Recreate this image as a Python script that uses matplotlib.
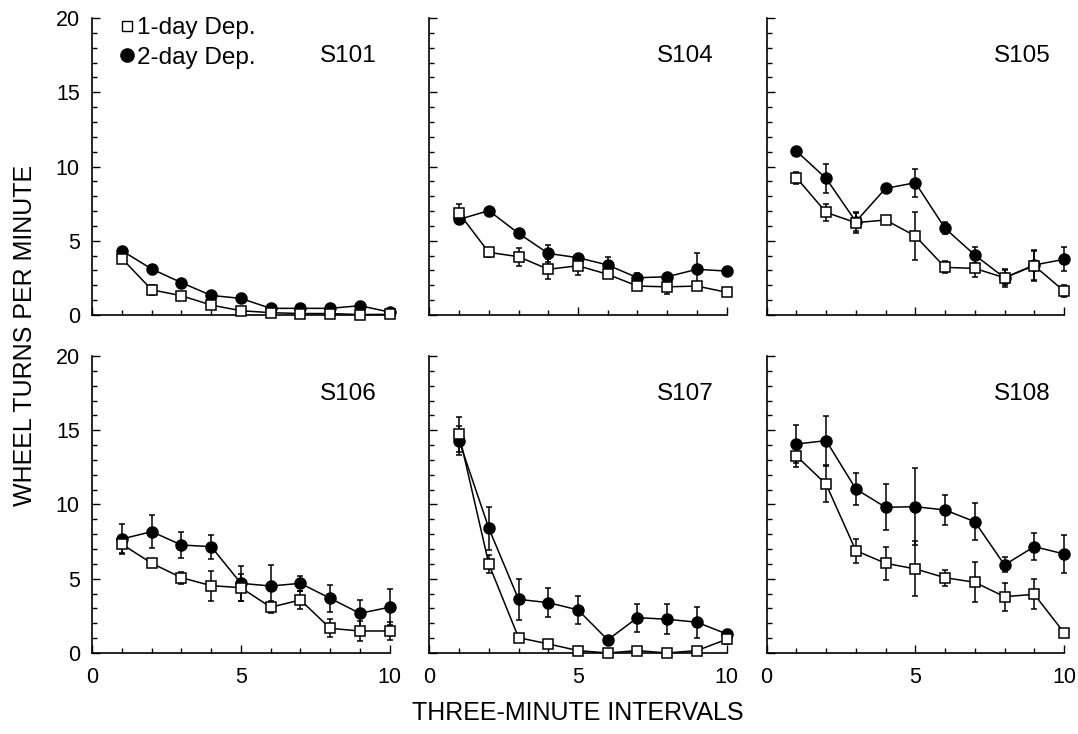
import numpy as np
import matplotlib.pyplot as plt
from matplotlib.ticker import MultipleLocator
from matplotlib.lines import Line2D

plt.rcParams['font.family'] = ['Liberation Sans', 'DejaVu Sans']

x = np.arange(1, 11)

subjects = ['S101', 'S104', 'S105', 'S106', 'S107', 'S108']

# 1-day deprivation (open squares)
one_day = {
    'S101': [3.8, 1.7, 1.3, 0.67, 0.29, 0.16, 0.1, 0.1, 0.03, 0.05],
    'S104': [6.85, 4.22, 3.93, 3.08, 3.32, 2.74, 1.95, 1.9, 1.95, 1.53],
    'S105': [9.25, 6.91, 6.22, 6.4, 5.32, 3.21, 3.14, 2.51, 3.32, 1.62],
    'S106': [7.32, 6.04, 5.07, 4.53, 4.4, 3.08, 3.57, 1.66, 1.48, 1.48],
    'S107': [14.72, 5.99, 1.03, 0.61, 0.16, 0.0, 0.16, 0.0, 0.16, 0.92],
    'S108': [13.27, 11.36, 6.89, 6.04, 5.66, 5.07, 4.76, 3.79, 3.95, 1.37],
}
one_err = {
    'S101': [0.15, 0.35, 0.1, 0.15, 0.1, 0.05, 0.05, 0.05, 0.05, 0.05],
    'S104': [0.6, 0.3, 0.6, 0.67, 0.65, 0.2, 0.15, 0.5, 0.1, 0.1],
    'S105': [0.4, 0.6, 0.7, 0.3, 1.6, 0.4, 0.6, 0.6, 1.0, 0.4],
    'S106': [0.6, 0.2, 0.4, 1.0, 0.9, 0.4, 0.6, 0.6, 0.7, 0.6],
    'S107': [1.2, 0.6, 0.1, 0.1, 0.05, 0.05, 0.05, 0.05, 0.05, 0.3],
    'S108': [0.75, 1.2, 0.8, 1.1, 1.85, 0.55, 1.35, 0.95, 1.0, 0.1],
}

# 2-day deprivation (filled circles)
two_day = {
    'S101': [4.33, 3.1, 2.18, 1.32, 1.12, 0.45, 0.45, 0.45, 0.63, 0.2],
    'S104': [6.44, 7.03, 5.5, 4.15, 3.86, 3.37, 2.51, 2.58, 3.08, 2.96],
    'S105': [11.04, 9.2, 6.29, 8.53, 8.91, 5.84, 4.04, 2.51, 3.37, 3.75],
    'S106': [7.68, 8.17, 7.27, 7.16, 4.69, 4.51, 4.69, 3.68, 2.67, 3.08],
    'S107': [14.3, 8.4, 3.61, 3.39, 2.9, 0.88, 2.38, 2.27, 2.07, 1.28],
    'S108': [14.07, 14.3, 11.04, 9.81, 9.85, 9.63, 8.84, 5.93, 7.16, 6.67],
}
two_err = {
    'S101': [0.1, 0.1, 0.1, 0.1, 0.1, 0.05, 0.05, 0.05, 0.1, 0.05],
    'S104': [0.2, 0.15, 0.3, 0.6, 0.2, 0.55, 0.3, 0.2, 1.1, 0.15],
    'S105': [0.2, 1.0, 0.6, 0.2, 0.95, 0.4, 0.55, 0.5, 1.0, 0.8],
    'S106': [1.0, 1.1, 0.9, 0.8, 1.2, 1.4, 0.5, 0.9, 0.9, 1.2],
    'S107': [1.0, 1.45, 1.4, 1.0, 0.95, 0.1, 0.95, 1.0, 1.05, 0.3],
    'S108': [1.3, 1.65, 1.1, 1.55, 2.6, 1.0, 1.25, 0.5, 0.9, 1.3],
}

fig = plt.figure(figsize=(10.78, 7.34), dpi=100)

lefts = [0.0856, 0.3983, 0.7112]
bottoms = [0.5708, 0.1104]
w, h = 0.2758, 0.4046

for i, s in enumerate(subjects):
    row, col = divmod(i, 3)
    ax = fig.add_axes([lefts[col], bottoms[row], w, h])

    c2 = ax.errorbar(x, two_day[s], yerr=two_err[s], color='black', lw=1.1,
                     marker='o', ms=8, mfc='black', mec='black',
                     elinewidth=1.1, capsize=2.5, capthick=1.1, zorder=2)
    c1 = ax.errorbar(x, one_day[s], yerr=one_err[s], color='black', lw=1.1,
                     marker='s', ms=7.5, mfc='white', mec='black', mew=1.1,
                     elinewidth=1.1, capsize=2.5, capthick=1.1, zorder=3)
    for cont in (c1, c2):
        for art in cont.get_children():
            art.set_clip_on(False)

    ax.set_xlim(0, 10)
    ax.set_ylim(0, 20)
    ax.spines['top'].set_visible(False)
    ax.spines['right'].set_visible(False)
    for sp in ax.spines.values():
        sp.set_linewidth(1.2)

    ax.xaxis.set_major_locator(MultipleLocator(5))
    ax.xaxis.set_minor_locator(MultipleLocator(1))
    ax.yaxis.set_major_locator(MultipleLocator(5))
    ax.yaxis.set_minor_locator(MultipleLocator(1))
    ax.tick_params(which='both', direction='in', width=1.0, labelsize=15.5)
    ax.tick_params(which='major', length=6)
    ax.tick_params(which='minor', length=3.5)
    ax.tick_params(axis='y', pad=9)
    ax.tick_params(axis='x', pad=10)
    if col != 0:
        ax.tick_params(axis='y', labelleft=False)
    if row != 1:
        ax.tick_params(axis='x', labelbottom=False)

    ax.text(0.955, 0.872, s, transform=ax.transAxes, ha='right', va='center',
            fontsize=17.5)

    if i == 0:
        handles = [
            Line2D([], [], ls='none', marker='s', ms=7.5, mfc='white',
                   mec='black', mew=1.0),
            Line2D([], [], ls='none', marker='o', ms=9.5, mfc='black',
                   mec='black'),
        ]
        ax.legend(handles, ['1-day Dep.', '2-day Dep.'], loc='upper left',
                  bbox_to_anchor=(0.095, 1.002), frameon=False,
                  fontsize=17.5, handlelength=0.5, handletextpad=0.17,
                  labelspacing=0.3, borderaxespad=0, borderpad=0)

fig.text(0.023, 0.5435, 'WHEEL TURNS PER MINUTE', rotation=90, ha='center',
         va='center', fontsize=18)
fig.text(0.536, 0.029, 'THREE-MINUTE INTERVALS', ha='center', va='center',
         fontsize=18)

plt.savefig('out.png', dpi=100)
